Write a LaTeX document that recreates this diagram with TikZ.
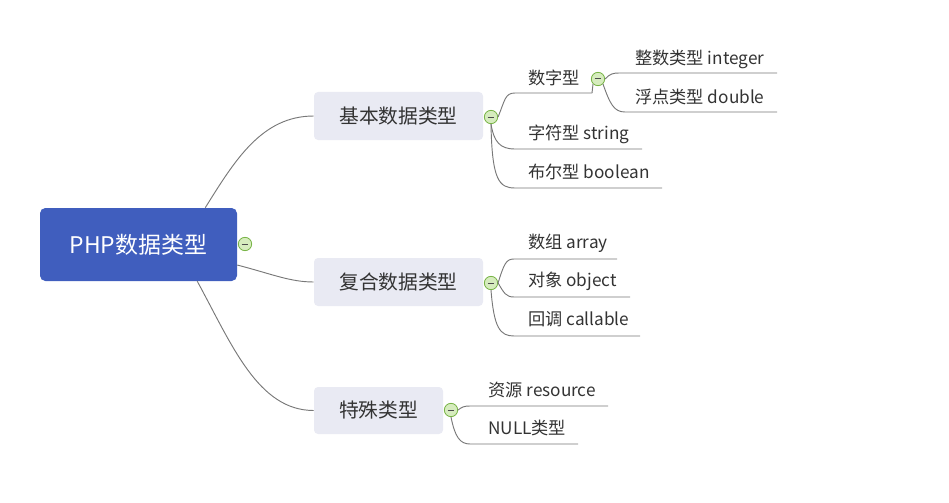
\documentclass[tikz,border=0pt]{standalone}
\usepackage{fontspec}
\setmainfont{Noto Sans CJK SC}
\definecolor{rootblue}{RGB}{64,94,190}
\definecolor{lvlfill}{RGB}{233,234,243}
\definecolor{txt}{RGB}{51,51,51}
\definecolor{ln}{RGB}{120,120,120}
\definecolor{btnfill}{RGB}{214,236,190}
\definecolor{btnline}{RGB}{120,180,70}
\begin{document}
\begin{tikzpicture}[x=0.75pt,y=-0.75pt,
  rootbox/.style={fill=rootblue, rounded corners=4pt, inner sep=0pt, text=white,
    minimum width=147.75pt, minimum height=54.75pt, font=\fontsize{17.2}{20}\selectfont},
  lvlbox/.style={fill=lvlfill, rounded corners=3pt, inner sep=0pt, text=txt,
    minimum height=36pt, font=\fontsize{14.8}{17}\selectfont},
  leaf/.style={anchor=west, inner sep=0pt, text=txt, font=\fontsize{12.9}{15}\selectfont},
  conn/.style={draw=ln, line width=0.7pt},
  btn/.style={circle, draw=btnline, fill=btnfill, line width=0.6pt, minimum size=10pt, inner sep=0pt,
    path picture={\draw[line width=0.75pt, black!70] ([xshift=-2.6pt]path picture bounding box.center) -- ([xshift=2.6pt]path picture bounding box.center);}}
]
\useasboundingbox (0,0) rectangle (949,503);

% root
\node[rootbox] (root) at (138.5,244.5) {PHP数据类型};
\node[btn] (rb) at (245,244) {};

% level 1
\node[lvlbox, minimum width=126.75pt] (b1) at (398.5,116) {基本数据类型};
\node[lvlbox, minimum width=126.75pt] (b2) at (398.5,282) {复合数据类型};
\node[lvlbox, minimum width=96.75pt, minimum height=35.25pt] (b3) at (378.5,410.5) {特殊类型};

\draw[conn] ([xshift=-24pt]root.north east) .. controls (235,160) and (262,116) .. (b1.west);
\draw[conn] ([yshift=-15.4pt]root.east) .. controls (272,274) and (290,282) .. (b2.west);
\draw[conn] ([xshift=-30pt]root.south east) .. controls (232,345) and (258,410.5) .. (b3.west);

% buttons on level 1
\node[btn] (c1) at (491,117) {};
\node[btn] (c2) at (491,283) {};
\node[btn] (c3) at (451,410) {};

% leaves of b1
\node[leaf] (n1) at (528,78) {数字型};
\node[leaf] (n2) at (528,134) {字符型 string};
\node[leaf] (n3) at (528,172) {布尔型 boolean};
\coordinate (u1s) at (515,93);  \coordinate (u1e) at (592,93);
\coordinate (u2s) at (515,149); \coordinate (u2e) at (642,149);
\coordinate (u3s) at (515,188); \coordinate (u3e) at (662,188);
\draw[conn] (c1.east) .. controls (505,100) and (505,93) .. (u1s) -- (u1e);
\draw[conn] (c1.south) .. controls (494,142) and (500,149) .. (u2s) -- (u2e);
\draw[conn] (c1.south) .. controls (492,180) and (499,188) .. (u3s) -- (u3e);

% number subtree
\node[btn] (c4) at (598,79) {};
\node[leaf] (m1) at (635,59) {整数类型 integer};
\node[leaf] (m2) at (635,97) {浮点类型 double};
\coordinate (v1s) at (620,73);  \coordinate (v1e) at (777,73);
\coordinate (v2s) at (625,112); \coordinate (v2e) at (777,112);
\draw[conn] (u1e) -- (c4.south west);
\draw[conn] (c4.east) .. controls (610,74) and (612,73) .. (v1s) -- (v1e);
\draw[conn] (c4.south east) .. controls (610,104) and (614,112) .. (v2s) -- (v2e);

% leaves of b2
\node[leaf] (p1) at (528,243) {数组 array};
\node[leaf] (p2) at (528,281) {对象 object};
\node[leaf] (p3) at (528,319) {回调 callable};
\coordinate (w1s) at (514,259); \coordinate (w1e) at (617,259);
\coordinate (w2s) at (514,297); \coordinate (w2e) at (630,297);
\coordinate (w3s) at (514,336); \coordinate (w3e) at (640,336);
\draw[conn] (c2.east) .. controls (504,264) and (506,259) .. (w1s) -- (w1e);
\draw[conn] (c2.east) .. controls (504,293) and (506,297) .. (w2s) -- (w2e);
\draw[conn] (c2.south) .. controls (494,328) and (500,336) .. (w3s) -- (w3e);

% leaves of b3
\node[leaf] (q1) at (488,390) {资源 resource};
\node[leaf] (q2) at (488,428) {NULL类型};
\coordinate (x1s) at (470,406); \coordinate (x1e) at (608,406);
\coordinate (x2s) at (470,444); \coordinate (x2e) at (578,444);
\draw[conn] (c3.east) .. controls (462,407) and (464,406) .. (x1s) -- (x1e);
\draw[conn] (c3.south) .. controls (455,437) and (460,444) .. (x2s) -- (x2e);
\end{tikzpicture}
\end{document}
